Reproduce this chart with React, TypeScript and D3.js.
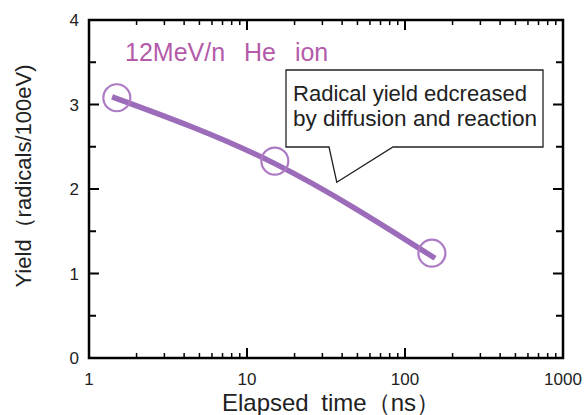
import * as d3 from "d3";

const xTicks = [1, 10, 100, 1000];
const yTicks = [0, 1, 2, 3, 4];
const yMinor = [0.5, 1.5, 2.5, 3.5];
const pointTime = [1.5, 15, 148];
const pointYield = [3.08, 2.33, 1.24];
const fitTime = [1.4, 15, 155];
const fitYield = [3.09, 2.3, 1.18];
const title = "12MeV/n He ion";
const note = ["Radical yield edcreased", "by diffusion and reaction"];

const W = 585;
const H = 415;
const m = { top: 20, right: 22, bottom: 57, left: 89 };

export default function App() {
  const x = d3.scaleLog().domain([1, 1000]).range([m.left, W - m.right]);
  const y = d3.scaleLinear().domain([0, 4]).range([H - m.bottom, m.top]);
  const x0 = m.left, x1 = W - m.right, y0 = H - m.bottom, y1 = m.top;

  const minorX: number[] = [];
  for (const d of [1, 10, 100]) for (let k = 2; k <= 9; k++) minorX.push(d * k);

  const line = d3
    .line<number>()
    .x((_, i) => x(fitTime[i]))
    .y((d) => y(d))
    .curve(d3.curveMonotoneX);

  const purple = "#9c6cba";
  const circ = "#ad7bc4";
  const font = "'Liberation Sans', Arial, sans-serif";

  // callout box, its tip points at the curve region
  const bx = 286, by = 70, bw = 257, bh = 77;
  const tip: [number, number] = [x(37), y(2.08)];

  return (
    <svg width={W} height={H} style={{ position: "absolute", left: 0, top: 0, background: "#fff" }} fontFamily={font}>
      {/* minor ticks */}
      {minorX.map((v) => (
        <g key={"mx" + v} stroke="#000" strokeWidth={1.5}>
          <line x1={x(v)} x2={x(v)} y1={y0} y2={y0 - 5} />
          <line x1={x(v)} x2={x(v)} y1={y1} y2={y1 + 5} />
        </g>
      ))}
      {xTicks.map((v) => (
        <g key={"xt" + v}>
          <line x1={x(v)} x2={x(v)} y1={y0} y2={y0 - 10} stroke="#000" strokeWidth={2} />
          <line x1={x(v)} x2={x(v)} y1={y1} y2={y1 + 10} stroke="#000" strokeWidth={2} />
          <text x={x(v)} y={y0 + 27} fontSize={17} textAnchor="middle" fill="#222">{v}</text>
        </g>
      ))}
      {yMinor.map((v) => (
        <g key={"my" + v} stroke="#000" strokeWidth={2}>
          <line x1={x0} x2={x0 + 7} y1={y(v)} y2={y(v)} />
          <line x1={x1} x2={x1 - 7} y1={y(v)} y2={y(v)} />
        </g>
      ))}
      {yTicks.map((v) => (
        <g key={"yt" + v}>
          <line x1={x0} x2={x0 + 10} y1={y(v)} y2={y(v)} stroke="#000" strokeWidth={2} />
          <line x1={x1} x2={x1 - 10} y1={y(v)} y2={y(v)} stroke="#000" strokeWidth={2} />
          <text x={x0 - 10} y={y(v) + 6} fontSize={17} textAnchor="end" fill="#222">{v}</text>
        </g>
      ))}
      <rect x={x0} y={y1} width={x1 - x0} height={y0 - y1} fill="none" stroke="#000" strokeWidth={2.5} />

      <text x={125} y={61} fontSize={25} fill="#b35ba9" style={{ wordSpacing: 12 }}>{title}</text>

      <path d={line(fitYield) ?? ""} fill="none" stroke={purple} strokeWidth={5.5} strokeLinecap="butt" />
      {pointTime.map((t, i) => (
        <circle key={"p" + i} cx={x(t)} cy={y(pointYield[i])} r={13.5} fill="none" stroke={circ} strokeWidth={2.2} />
      ))}

      <path
        d={`M${bx},${by}H${bx + bw}V${by + bh}H393L${tip[0]},${tip[1]}L329,${by + bh}H${bx}Z`}
        fill="#fff"
        stroke="#222"
        strokeWidth={1.3}
      />
      <text fontSize={22} fill="#222">
        <tspan x={293} y={101} textLength={234} lengthAdjust="spacingAndGlyphs">{note[0]}</tspan>
        <tspan x={293} y={126} textLength={244} lengthAdjust="spacingAndGlyphs">{note[1]}</tspan>
      </text>

      <text
        transform={`translate(31,176) rotate(-90)`}
        fontSize={22}
        textAnchor="middle"
        fill="#222"
      >
        Yield（radicals/100eV)
      </text>
      <text x={331} y={411} fontSize={24} textAnchor="middle" fill="#222" style={{ wordSpacing: 6 }}>
        Elapsed time（ns）
      </text>
    </svg>
  );
}
